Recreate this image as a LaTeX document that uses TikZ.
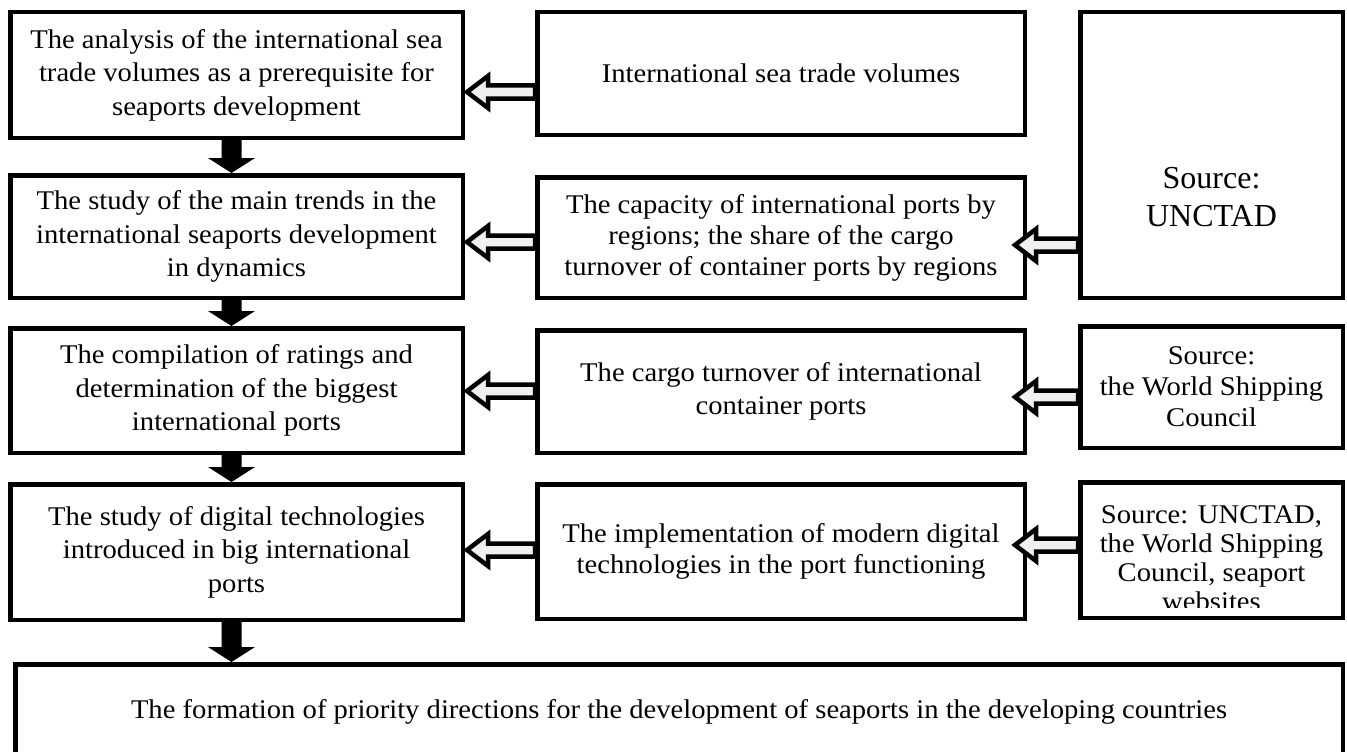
\documentclass[tikz,border=0pt]{standalone}
\usepackage{fontspec}
\setmainfont{Liberation Serif}[FakeStretch=1.06]
\newfontfamily\tnrfont{Liberation Serif}
\usetikzlibrary{calc}
\definecolor{arrowgray}{HTML}{F0F0F0}
\newcommand\hollowleft[2]{%
  \path[harrow] let \p1=(#1), \p2=(#2) in
    (\x1,\y1) -- (\x1+21pt,\y1+16pt) -- (\x1+21pt,\y1+6.5pt) -- (\x2,\y1+6.5pt)
    -- (\x2,\y1-6.5pt) -- (\x1+21pt,\y1-6.5pt) -- (\x1+21pt,\y1-16pt) -- cycle;}
\newcommand\blackdown[2]{%
  \path[darrow] let \p1=(#1), \p2=(#2) in
    (\x1-10pt,\y1) -- (\x1+10pt,\y1) -- (\x1+10pt,\y2+15pt) -- (\x1+23.5pt,\y2+15pt)
    -- (\x1,\y2) -- (\x1-23.5pt,\y2+15pt) -- (\x1-10pt,\y2+15pt) -- cycle;}
\tikzset{
  box/.style={draw=black, line width=4.5pt, fill=white, align=center, inner sep=0pt,
    font=\fontsize{27}{33.5}\selectfont},
  txt/.style={align=center, inner sep=0pt, font=\fontsize{27}{29}\selectfont},
  harrow/.style={draw=black, line width=4.5pt, fill=arrowgray, line join=miter},
  darrow/.style={fill=black},
}
\begin{document}
\begin{tikzpicture}[x=1pt,y=-1pt]
\useasboundingbox (0,0) rectangle (1347,752);
\clip (0,0) rectangle (1347,752);
% left column
\node[box, minimum width=452.5, minimum height=125.5] (L1) at (236.5,75)
  {The analysis of the international sea\\trade volumes as a prerequisite for\\seaports development};
\node[box, minimum width=452.5, minimum height=122.5] (L2) at (236.5,236.5)
  {The study of the main trends in the\\international seaports development\\in dynamics};
\node[box, minimum width=452.5, minimum height=124.5] (L3) at (236.5,390.5)
  {The compilation of ratings and\\determination of the biggest\\international ports};
\node[box, minimum width=452.5, minimum height=135.5] (L4) at (236.5,552)
  {The study of digital technologies\\introduced in big international\\ports};
% middle column
\node[box, minimum width=487.5, minimum height=122.5] (M1) at (781,73.5)
  {International sea trade volumes};
\node[box, minimum width=487.5, minimum height=120.5, font=\fontsize{27}{31}\selectfont] (M2) at (781,237.5)
  {The capacity of international ports by\\regions; the share of the cargo\\turnover of container ports by regions};
\node[box, minimum width=487.5, minimum height=122.5] (M3) at (781,391.5)
  {The cargo turnover of international\\container ports};
\node[box, minimum width=487.5, minimum height=134.5, font=\fontsize{27}{31}\selectfont] (M4) at (781,551.5)
  {The implementation of modern digital\\technologies in the port functioning};
% right column
\node[box, minimum width=262.5, minimum height=285.5] (R1) at (1211.5,155) {};
\node[txt, font=\tnrfont\fontsize{32}{38}\selectfont] (R1t) at ($(R1.center)+(0,42)$) {Source:\\UNCTAD};
\node[box, minimum width=262.5, minimum height=121.5, font=\fontsize{27}{31}\selectfont] (R3) at (1211.5,387)
  {Source:\\the World Shipping\\Council};
\node[box, minimum width=262.5, minimum height=135.5] (R4) at (1211.5,550) {};
\begin{scope}
  \clip (1082,484) rectangle (1341,607);
  \node[txt] (R4t) at ($(R4.center)+(0,8)$) {Source: UNCTAD,\\the World Shipping\\Council, seaport\\websites};
\end{scope}
% bottom
\node[box, minimum width=1327.5, minimum height=95.5] (B) at (679,712)
  {The formation of priority directions for the development of seaports in the developing countries};
% arrow rows
\coordinate (h1) at (0,92);
\coordinate (h2l) at (0,242);
\coordinate (h2r) at (0,245);
\coordinate (h3l) at (0,391);
\coordinate (h3r) at (0,397);
\coordinate (h4l) at (0,550);
\coordinate (h4r) at (0,545);
\hollowleft{$(L1.east|-h1)+(2,0)$}{M1.west|-h1}
\hollowleft{$(L2.east|-h2l)+(2,0)$}{M2.west|-h2l}
\hollowleft{$(L3.east|-h3l)+(2,0)$}{M3.west|-h3l}
\hollowleft{$(L4.east|-h4l)+(2,0)$}{M4.west|-h4l}
\hollowleft{$(M2.east|-h2r)+(-12,0)$}{R1.west|-h2r}
\hollowleft{$(M3.east|-h3r)+(-12,0)$}{R3.west|-h3r}
\hollowleft{$(M4.east|-h4r)+(-12,0)$}{R4.west|-h4r}
% down arrows
\blackdown{$(L1.south)+(-5,0)$}{L2.north}
\blackdown{$(L2.south)+(-5,0)$}{L3.north}
\blackdown{$(L3.south)+(-5,0)$}{L4.north}
\blackdown{$(L4.south)+(-5,0)$}{B.north}
\end{tikzpicture}
\end{document}
